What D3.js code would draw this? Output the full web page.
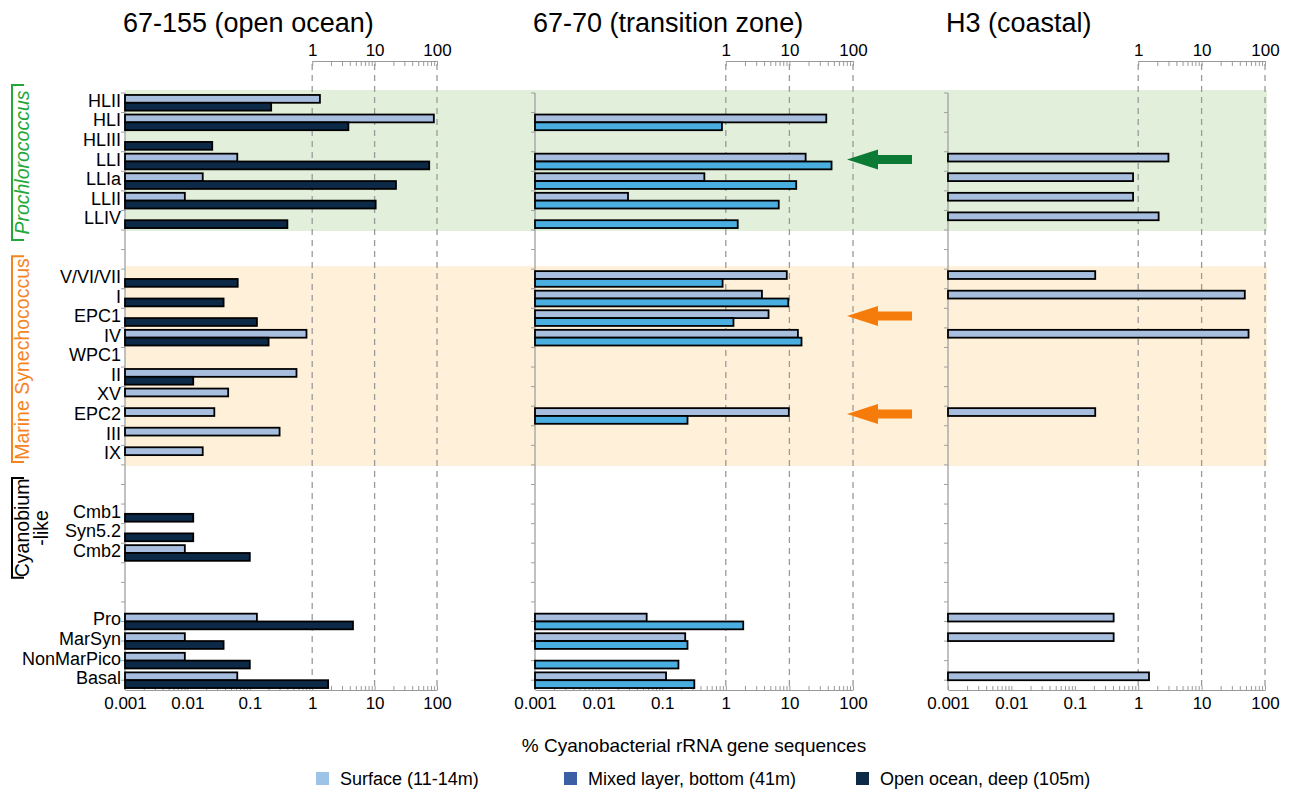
<!DOCTYPE html>
<html>
<head>
<meta charset="utf-8">
<script src="https://cdn.jsdelivr.net/npm/d3@7"></script>
<style>
body { margin: 0; background: #fff; overflow: hidden; }
text { font-family: "Liberation Sans", Arial, sans-serif; fill: #000; }
</style>
</head>
<body>
<script>
// clade groups, top to bottom
const proGroup = ["HLII", "HLI", "HLIII", "LLI", "LLIa", "LLII", "LLIV"];
const synGroup = ["V/VI/VII", "I", "EPC1", "IV", "WPC1", "II", "XV", "EPC2", "III", "IX"];
const cyanoGroup = ["Cmb1", "Syn5.2", "Cmb2"];
const summaryGroup = ["Pro", "MarSyn", "NonMarPico", "Basal"];
const categories = [...proGroup, ...synGroup, ...cyanoGroup, ...summaryGroup];

const panelTitles = ["67-155 (open ocean)", "67-70 (transition zone)", "H3 (coastal)"];
const seriesNames = ["Surface (11-14m)", "Mixed layer, bottom (41m)", "Open ocean, deep (105m)"];
const groupNames = ["Prochlorococcus", "Marine Synechococcus", "Cyanobium\n-like"];
const xTicks = [0.001, 0.01, 0.1, 1, 10, 100];
const topTicks = [1, 10, 100];
const arrowRows = ["LLI", "EPC1", "EPC2"];

// % of cyanobacterial sequences, aligned with categories (null = none)
const openSurface = [1.33, 89, null, 0.063, 0.0176, 0.0091, null,
  null, null, null, 0.81, null, 0.56, 0.045, 0.027, 0.30, 0.0176,
  null, null, 0.0091,
  0.13, 0.0091, 0.0091, 0.063];
const openDeep = [0.22, 3.8, 0.025, 75, 22, 10.4, 0.4,
  0.064, 0.038, 0.13, 0.2, null, 0.0124, null, null, null, null,
  0.0124, 0.0124, 0.1,
  4.5, 0.038, 0.1, 1.8];
const transSurface = [null, 38, null, 18, 0.46, 0.029, null,
  9.1, 3.7, 4.7, 13.6, null, null, null, 9.8, null, null,
  null, null, null,
  0.057, 0.23, null, 0.115];
const transMixed = [null, 0.87, null, 46, 12.8, 6.8, 1.54,
  0.89, 9.6, 1.32, 15.5, null, null, null, 0.25, null, null,
  null, null, null,
  1.88, 0.25, 0.18, 0.32];
const coastSurface = [null, null, null, 3.0, 0.83, 0.83, 2.1,
  0.21, 48, null, 55, null, null, null, 0.21, null, null,
  null, null, null,
  0.41, 0.41, null, 1.48];

const colLight = "#a7bedf", colSky = "#4aaee0", colDeep = "#0c2a47";
const legendColors = ["#9dc3e6", "#3b5ea5", "#0d2a46"];

const svg = d3.select("body").append("svg")
    .attr("width", 1295)
    .attr("height", 793);

// row slots: groups separated by empty rows (last gap is two and a half rows)
const groupList = [proGroup, synGroup, cyanoGroup, summaryGroup];
const gapsBefore = [0, 2, 2, 2.5];
const rowIndex = {};
let idx = 0;
groupList.forEach((grp, gi) => {
    idx += gapsBefore[gi];
    grp.forEach((c) => { rowIndex[c] = idx; idx += 1; });
});
const nRows = idx;
const yScale = d3.scaleLinear().domain([0, nRows]).range([93, 690]);
const bw = yScale(1) - yScale(0);
const bh = bw * 0.4;
const yTop = (c) => yScale(rowIndex[c]);
const yc = (c) => yScale(rowIndex[c] + 0.5);

const panels = [
    {x0: 125, x1: 437, series: [openSurface, openDeep], colors: [colLight, colDeep]},
    {x0: 535, x1: 853, series: [transSurface, transMixed], colors: [colLight, colSky]},
    {x0: 948, x1: 1265, series: [coastSurface], colors: [colLight]}
];
panels.forEach((p) => {
    p.x = d3.scaleLog().domain([0.001, 100]).range([p.x0, p.x1]);
});

// group background bands
const bands = [
    {rows: proGroup, fill: "#e2efda"},
    {rows: synGroup, fill: "#fef0d9"}
];
svg.selectAll("rect.band").data(bands).enter().append("rect")
    .attr("class", "band")
    .attr("x", panels[0].x0)
    .attr("width", panels[2].x1 + 2 - panels[0].x0)
    .attr("y", (d) => yTop(d.rows[0]) - 3)
    .attr("height", (d) => yTop(d.rows[d.rows.length - 1]) + bw + 1 - (yTop(d.rows[0]) - 3))
    .attr("fill", (d) => d.fill);

function minorTicks(lo, hi) {
    const out = [];
    for (let d = lo; d < hi * 0.999; d *= 10)
        for (let k = 1; k < 10; k++) out.push(d * k);
    out.push(hi);
    return out;
}

panels.forEach((p, i) => {
    const g = svg.append("g");

    // title
    g.append("text")
        .attr("x", p.x0 - 2)
        .attr("y", 32)
        .style("font-size", "27px")
        .text(panelTitles[i]);

    // dashed grid at 1, 10, 100
    g.selectAll("line.grid").data(topTicks).enter().append("line")
        .attr("x1", (d) => p.x(d)).attr("x2", (d) => p.x(d))
        .attr("y1", 64).attr("y2", 690)
        .attr("stroke", "#9a9a9a")
        .attr("stroke-width", 1.3)
        .attr("stroke-dasharray", "6,5");

    // top axis, 1..100 only
    const topScale = d3.scaleLog().domain([1, 100]).range([p.x(1), p.x(100)]);
    const topAxis = d3.axisTop(topScale)
        .tickValues(minorTicks(1, 100))
        .tickSize(-5).tickSizeOuter(0).tickPadding(5)
        .tickFormat((d) => topTicks.includes(d) ? d : "");
    const ta = g.append("g").attr("transform", "translate(0,61)").call(topAxis);
    ta.selectAll("path, line").attr("stroke", "#9a9a9a");
    ta.selectAll("text").style("font-size", "17px").style("font-family", '"Liberation Sans", Arial, sans-serif');

    // bottom axis
    const botAxis = d3.axisBottom(p.x)
        .tickValues(minorTicks(0.001, 100))
        .tickSize(-4).tickSizeOuter(0).tickPadding(7)
        .tickFormat((d) => xTicks.includes(d) ? String(d) : "");
    const ba = g.append("g").attr("transform", "translate(0,690)").call(botAxis);
    ba.selectAll("path, line").attr("stroke", "#9a9a9a");
    ba.selectAll("text").style("font-size", "17px").style("font-family", '"Liberation Sans", Arial, sans-serif');

    // category axis: line plus ticks
    g.append("line")
        .attr("x1", p.x0).attr("x2", p.x0)
        .attr("y1", yScale(0)).attr("y2", 690)
        .attr("stroke", "#a0a0a0").attr("stroke-width", 1.3);
    g.selectAll("line.ytick").data(d3.range(0, Math.floor(nRows) + 1)).enter().append("line")
        .attr("x1", p.x0 - 4).attr("x2", p.x0)
        .attr("y1", (d) => yScale(d)).attr("y2", (d) => yScale(d))
        .attr("stroke", "#a0a0a0");

    // bars
    p.series.forEach((vals, s) => {
        const data = categories.map((c, j) => ({cat: c, v: vals[j]})).filter((d) => d.v != null);
        g.selectAll("rect.s" + s).data(data).enter().append("rect")
            .attr("class", "s" + s)
            .attr("x", p.x0)
            .attr("y", (d) => s === 0 ? yc(d.cat) - bh : yc(d.cat))
            .attr("width", (d) => p.x(d.v) - p.x0)
            .attr("height", bh)
            .attr("fill", p.colors[s])
            .attr("stroke", "#000")
            .attr("stroke-width", 1.8);
    });
});

// category labels
svg.selectAll("text.cat").data(categories).enter().append("text")
    .attr("class", "cat")
    .attr("x", panels[0].x0 - 4)
    .attr("y", (d) => yc(d) - 2)
    .attr("text-anchor", "end")
    .attr("dominant-baseline", "central")
    .style("font-size", "18px")
    .text((d) => d);

// group brackets and labels
const groups = [
    {rows: proGroup, color: "#22a83a", italic: true, top: -8, bot: 10},
    {rows: synGroup, color: "#f5841f", italic: false, top: -13, bot: -3},
    {rows: cyanoGroup, color: "#000", italic: false, top: -26, bot: 15}
];
groups.forEach((gr, i) => {
    const y0 = yTop(gr.rows[0]) + gr.top;
    const y1 = yTop(gr.rows[gr.rows.length - 1]) + bw + gr.bot;
    svg.append("path")
        .attr("d", `M24,${y0}H12V${y1}H24`)
        .attr("fill", "none")
        .attr("stroke", gr.color)
        .attr("stroke-width", 2);
    const lines = groupNames[i].split("\n");
    const t = svg.append("text")
        .attr("transform", `translate(29,${(y0 + y1) / 2}) rotate(-90)`)
        .attr("text-anchor", "middle")
        .style("font-size", "19.5px")
        .style("font-style", gr.italic ? "italic" : "normal")
        .style("fill", gr.color);
    lines.forEach((l, k) => {
        t.append("tspan").attr("x", 0).attr("dy", k === 0 ? 0 : "0.95em").text(l);
    });
});

// arrows in transition panel
const arrowColors = ["#0b7a35", "#f57b0a", "#f57b0a"];
const tipX = panels[1].x(100) - 6;
svg.selectAll("path.arrow").data(arrowRows).enter().append("path")
    .attr("class", "arrow")
    .attr("d", (d) => {
        const y = yc(d) - 2;
        return `M${tipX},${y}L${tipX + 31},${y - 10}V${y - 4.5}H${tipX + 65}V${y + 4.5}H${tipX + 31}V${y + 10}Z`;
    })
    .attr("fill", (d, i) => arrowColors[i]);

// x axis title
svg.append("text")
    .attr("x", (panels[1].x0 + panels[1].x1) / 2)
    .attr("y", 752)
    .attr("text-anchor", "middle")
    .style("font-size", "19px")
    .text("% Cyanobacterial rRNA gene sequences");

// legend
const legendX = [316, 564, 856];
const lg = svg.selectAll("g.legend").data(seriesNames).enter().append("g")
    .attr("class", "legend")
    .attr("transform", (d, i) => `translate(${legendX[i]},772)`);
lg.append("rect").attr("width", 13).attr("height", 13).attr("fill", (d, i) => legendColors[i]);
lg.append("text")
    .attr("x", 24).attr("y", 7)
    .attr("dominant-baseline", "central")
    .style("font-size", "18px")
    .text((d) => d);
</script>
</body>
</html>
